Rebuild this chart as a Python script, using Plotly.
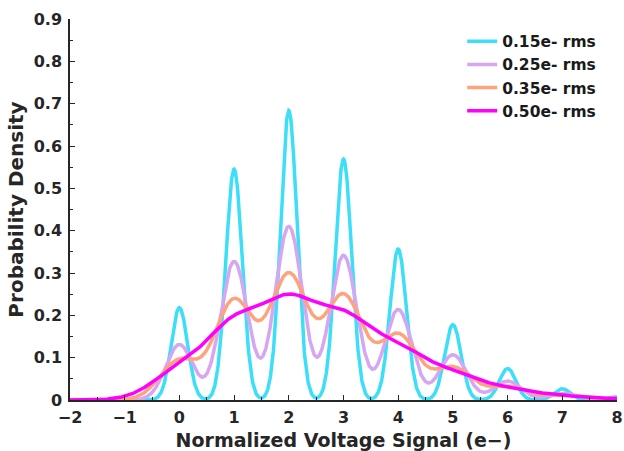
import numpy as np
import plotly.graph_objects as go

# Electron counts (peak positions) and peak probabilities
electrons = [0, 1, 2, 3, 4, 5, 6, 7, 8]
peak_prob = [0.082, 0.205, 0.257, 0.214, 0.134, 0.067, 0.028, 0.010, 0.003]

# Read noise levels (legend)
noise_rms = [0.15, 0.25, 0.35, 0.50]
labels = ["0.15e- rms", "0.25e- rms", "0.35e- rms", "0.50e- rms"]
colors = ["#3CDFF7", "#D6A6F3", "#FFA37D", "#FF00FF"]

x_ticks = list(range(-2, 9))

x = np.linspace(-2, 8, 1201)

fig = go.Figure()
for s, lab, col in zip(noise_rms, labels, colors):
    y = np.zeros_like(x)
    for k, p in zip(electrons, peak_prob):
        y += p * np.exp(-0.5 * ((x - k) / s) ** 2) / (np.sqrt(2 * np.pi) * s)
    fig.add_trace(go.Scatter(x=x, y=y, mode="lines", name=lab,
                             line=dict(color=col, width=3.5)))

fam = "DejaVu Sans"
ink = "#262626"
fig.update_layout(
    width=624, height=451,
    margin=dict(l=70, r=7, t=19, b=51),
    plot_bgcolor="white", paper_bgcolor="white",
    font=dict(family=fam, size=16, color=ink),
    showlegend=True,
    legend=dict(x=0.717, y=0.985, xanchor="left", yanchor="top",
                bgcolor="rgba(255,255,255,0)", borderwidth=0,
                font=dict(family=fam, size=15.5, color="#1a1a1a", weight="bold"),
                tracegroupgap=0, itemwidth=30),
)
fig.update_xaxes(
    range=[-2, 8], tickvals=x_ticks, showgrid=False, zeroline=False,
    showline=True, linecolor=ink, linewidth=1.5, automargin=False,
    ticks="inside", ticklen=5, tickcolor=ink, ticklabelstandoff=2,
    minor=dict(dtick=0.5, tick0=0, ticks="inside", ticklen=3, tickcolor=ink),
    tickfont=dict(family=fam, size=16, color=ink, weight="bold"),
    title=dict(text="Normalized Voltage Signal (e−)", standoff=8,
               font=dict(family=fam, size=19, color=ink, weight="bold")),
)
fig.update_yaxes(
    range=[0, 0.9], dtick=0.1, showgrid=False, zeroline=False,
    showline=True, linecolor=ink, linewidth=1.5, automargin=False,
    ticks="inside", ticklen=5, tickcolor=ink, ticklabelstandoff=3,
    minor=dict(dtick=0.05, ticks="inside", ticklen=3, tickcolor=ink),
    tickfont=dict(family=fam, size=16, color=ink, weight="bold"),
    title=dict(text="Probability Density", standoff=5,
               font=dict(family=fam, size=20, color=ink, weight="bold")),
)

fig.write_html("out.html",
               config={"displayModeBar": False},
               post_script="document.body.style.margin='0px';"
                           "document.body.style.overflow='hidden';")
